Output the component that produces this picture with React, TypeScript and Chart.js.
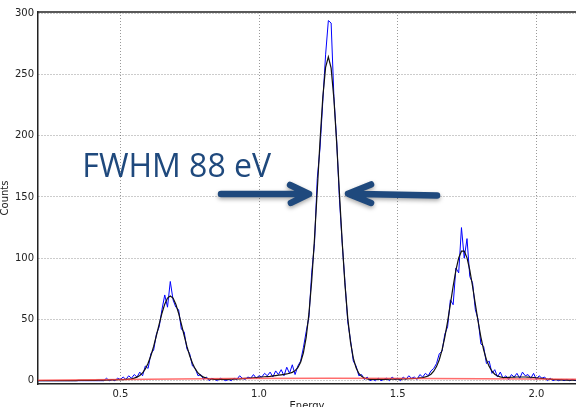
import { useEffect, useRef } from 'react';
import { Chart, registerables } from 'chart.js';

Chart.register(...registerables);

// Channel energies (keV)
const energy = [
  0.20, 0.21, 0.22, 0.23, 0.24, 0.25, 0.26, 0.27, 0.28, 0.29,
  0.30, 0.31, 0.32, 0.33, 0.34, 0.35, 0.36, 0.37, 0.38, 0.39,
  0.40, 0.41, 0.42, 0.43, 0.44, 0.45, 0.46, 0.47, 0.48, 0.49,
  0.50, 0.51, 0.52, 0.53, 0.54, 0.55, 0.56, 0.57, 0.58, 0.59,
  0.60, 0.61, 0.62, 0.63, 0.64, 0.65, 0.66, 0.67, 0.68, 0.69,
  0.70, 0.71, 0.72, 0.73, 0.74, 0.75, 0.76, 0.77, 0.78, 0.79,
  0.80, 0.81, 0.82, 0.83, 0.84, 0.85, 0.86, 0.87, 0.88, 0.89,
  0.90, 0.91, 0.92, 0.93, 0.94, 0.95, 0.96, 0.97, 0.98, 0.99,
  1.00, 1.01, 1.02, 1.03, 1.04, 1.05, 1.06, 1.07, 1.08, 1.09,
  1.10, 1.11, 1.12, 1.13, 1.14, 1.15, 1.16, 1.17, 1.18, 1.19,
  1.20, 1.21, 1.22, 1.23, 1.24, 1.25, 1.26, 1.27, 1.28, 1.29,
  1.30, 1.31, 1.32, 1.33, 1.34, 1.35, 1.36, 1.37, 1.38, 1.39,
  1.40, 1.41, 1.42, 1.43, 1.44, 1.45, 1.46, 1.47, 1.48, 1.49,
  1.50, 1.51, 1.52, 1.53, 1.54, 1.55, 1.56, 1.57, 1.58, 1.59,
  1.60, 1.61, 1.62, 1.63, 1.64, 1.65, 1.66, 1.67, 1.68, 1.69,
  1.70, 1.71, 1.72, 1.73, 1.74, 1.75, 1.76, 1.77, 1.78, 1.79,
  1.80, 1.81, 1.82, 1.83, 1.84, 1.85, 1.86, 1.87, 1.88, 1.89,
  1.90, 1.91, 1.92, 1.93, 1.94, 1.95, 1.96, 1.97, 1.98, 1.99,
  2.00, 2.01, 2.02, 2.03, 2.04, 2.05, 2.06, 2.07, 2.08, 2.09,
  2.10, 2.11, 2.12, 2.13, 2.14, 2.15,
];

// Measured spectrum (blue)
const measuredCounts = [
  0, 0, 0, 0, 0, 0, 0, 0, 0, 0,
  0, 0, 0, 0, 0, 0, 0, 0, 0, 0,
  0, 0, 0, 0, 0, 2, 0, 1, 0, 2,
  1, 3, 1, 4, 2, 5, 3, 7, 4, 12,
  10, 22, 25, 38, 44, 58, 70, 60, 81, 66,
  60, 58, 42, 40, 26, 22, 12, 10, 4, 5,
  1, 3, 0, 2, 1, 0, 2, 1, 0, 1,
  0, 2, 1, 4, 2, 1, 3, 2, 5, 2,
  4, 3, 6, 4, 7, 3, 8, 5, 9, 4,
  11, 6, 13, 5, 12, 16, 27, 40, 52, 88,
  112, 165, 190, 228, 266, 294, 292, 232, 196, 148,
  112, 80, 48, 33, 16, 12, 4, 5, 1, 3,
  0, 1, 0, 2, 0, 1, 2, 0, 3, 1,
  2, 0, 3, 1, 4, 2, 3, 1, 5, 3,
  6, 4, 8, 10, 14, 22, 24, 38, 44, 66,
  62, 92, 88, 125, 100, 116, 85, 80, 58, 50,
  30, 28, 14, 16, 6, 9, 3, 7, 2, 4,
  1, 5, 3, 6, 2, 7, 4, 5, 2, 6,
  1, 4, 2, 3, 0, 2, 0, 1, 0, 1,
  0, 1, 0, 1, 0, 1,
];

// Fitted model (black)
const fitCounts = [
  0, 0, 0, 0, 0, 0, 0, 0, 0, 0,
  0.1, 0.1, 0.1, 0.1, 0.1, 0.2, 0.2, 0.2, 0.2, 0.3,
  0.3, 0.3, 0.4, 0.4, 0.5, 0.5, 0.6, 0.6, 0.7, 0.8,
  0.8, 0.9, 1.1, 1.3, 1.5, 2.1, 2.9, 4.2, 6.3, 9.6,
  14.2, 20.4, 28.0, 36.9, 46.2, 55.1, 62.5, 67.5, 69.2, 67.5,
  62.5, 55.1, 46.2, 36.9, 28.0, 20.4, 14.2, 9.6, 6.3, 4.2,
  2.9, 2.1, 1.5, 1.3, 1.1, 1.0, 1.0, 1.0, 1.0, 1.1,
  1.2, 1.3, 1.4, 1.5, 1.7, 1.9, 2.0, 2.2, 2.4, 2.6,
  2.8, 3.0, 3.2, 3.4, 3.6, 3.9, 4.2, 4.5, 4.8, 5.1,
  5.5, 6.1, 6.8, 8.2, 10.6, 15.1, 22.8, 35.4, 54.7, 81.6,
  115.9, 155.5, 195.9, 231.4, 255.8, 264.3, 255.2, 230.2, 194.1, 153.1,
  113.0, 78.2, 50.9, 31.3, 18.4, 10.5, 5.9, 3.5, 2.1, 1.5,
  1.1, 1.0, 1.0, 1.0, 1.1, 1.1, 1.1, 1.2, 1.2, 1.2,
  1.3, 1.3, 1.4, 1.5, 1.6, 1.7, 1.8, 2.0, 2.3, 2.5,
  3.1, 3.8, 5.3, 7.7, 11.5, 17.1, 25.1, 35.6, 48.3, 62.5,
  77.1, 90.2, 100.3, 105.7, 105.7, 100.3, 90.2, 77.1, 62.5, 48.3,
  35.6, 25.1, 17.1, 11.5, 7.7, 5.3, 3.8, 3.1, 2.6, 2.6,
  2.7, 2.8, 2.9, 3.0, 3.0, 3.0, 3.0, 2.9, 2.8, 2.6,
  2.4, 2.1, 1.9, 1.6, 1.4, 1.2, 1.0, 0.9, 0.8, 0.7,
  0.6, 0.5, 0.5, 0.4, 0.4, 0.3,
];

// Background (red)
const bgEnergy = [0.20, 0.50, 0.90, 1.25, 1.60, 2.00, 2.15];
const bgCounts = [0.4, 1.0, 1.7, 2.0, 1.7, 1.3, 1.1];

const xTicks = [0.5, 1.0, 1.5, 2.0];
const yTicks = [0, 50, 100, 150, 200, 250, 300];
const xLabel = 'Energy';
const yLabel = 'Counts';
const noteText = 'FWHM 88 eV';
const notePos = [0.363, 166.5];
const leftArrow = { tail: [0.863, 152.4], tip: [1.18, 152.4], wingA: [1.112, 159.8], wingB: [1.115, 145.1] };
const rightArrow = { tail: [1.642, 151.2], tip: [1.321, 152.7], wingA: [1.404, 160.2], wingB: [1.404, 145.1] };

export default function App() {
  const ref = useRef<HTMLCanvasElement>(null);

  useEffect(() => {
    document.body.style.margin = '0';
    const canvas = ref.current!;
    let alive = true;

    const overlay = {
      id: 'overlay',
      afterDraw(chart: any) {
        const { ctx, chartArea: a, scales } = chart;
        const xs = scales.x;
        const ys = scales.y;
        const px = (v: number) => xs.getPixelForValue(v);
        const py = (v: number) => ys.getPixelForValue(v);
        ctx.save();
        // top spine
        ctx.strokeStyle = '#222';
        ctx.lineWidth = 1.5;
        ctx.beginPath();
        ctx.moveTo(a.left, a.top);
        ctx.lineTo(a.right, a.top);
        ctx.stroke();
        // axis titles
        ctx.fillStyle = '#222';
        ctx.font = '10px "DejaVu Sans"';
        ctx.textAlign = 'center';
        ctx.textBaseline = 'top';
        ctx.fillText(xLabel, (a.left + a.right) / 2, 401);
        ctx.save();
        ctx.translate(8, (a.top + a.bottom) / 2);
        ctx.rotate(-Math.PI / 2);
        ctx.textBaseline = 'alphabetic';
        ctx.fillText(yLabel, 0, 0);
        ctx.restore();
        // annotation text
        ctx.fillStyle = '#1F497D';
        ctx.font = '32px "Open Sans"';
        ctx.textAlign = 'left';
        ctx.textBaseline = 'alphabetic';
        ctx.fillText(noteText, px(notePos[0]), py(notePos[1]));
        // arrows
        ctx.strokeStyle = '#1F497D';
        ctx.lineWidth = 6.5;
        ctx.lineCap = 'round';
        ctx.lineJoin = 'round';
        ctx.shadowColor = 'rgba(0,0,0,0.35)';
        ctx.shadowBlur = 4;
        ctx.shadowOffsetY = 2;
        for (const ar of [leftArrow, rightArrow]) {
          ctx.beginPath();
          ctx.moveTo(px(ar.tail[0]), py(ar.tail[1]));
          ctx.lineTo(px(ar.tip[0]), py(ar.tip[1]));
          ctx.moveTo(px(ar.wingA[0]), py(ar.wingA[1]));
          ctx.lineTo(px(ar.tip[0]), py(ar.tip[1]));
          ctx.lineTo(px(ar.wingB[0]), py(ar.wingB[1]));
          ctx.stroke();
        }
        ctx.restore();
      },
    };

    const tickFont = { family: 'DejaVu Sans', size: 10 };

    const chart = new Chart(canvas, {
      type: 'line',
      data: {
        datasets: [
          {
            label: 'background',
            data: bgEnergy.map((x, i) => ({ x, y: bgCounts[i] })),
            borderColor: 'rgba(255,60,60,0.75)',
            borderWidth: 1.5,
            pointRadius: 0,
            tension: 0,
          },
          {
            label: 'fit',
            data: energy.map((x, i) => ({ x, y: fitCounts[i] })),
            borderColor: '#111',
            borderWidth: 1.2,
            pointRadius: 0,
            tension: 0,
          },
          {
            label: 'data',
            data: energy.map((x, i) => ({ x, y: measuredCounts[i] })),
            borderColor: '#0000ff',
            borderWidth: 1,
            pointRadius: 0,
            tension: 0,
          },
        ],
      },
      options: {
        responsive: false,
        animation: false,
        layout: { padding: { top: 12, right: 0, left: 0, bottom: 0 } },
        plugins: { legend: { display: false }, tooltip: { enabled: false } },
        scales: {
          x: {
            type: 'linear',
            min: 0.203,
            max: 2.143,
            afterBuildTicks: (s: any) => { s.ticks = xTicks.map((v) => ({ value: v })); },
            afterFit: (s: any) => { s.height = 23; },
            ticks: {
              callback: (v: any) => Number(v).toFixed(1),
              font: tickFont,
              color: '#222',
              padding: 4,
              maxRotation: 0,
              autoSkip: false,
            },
            grid: { color: 'rgba(0,0,0,0.4)', lineWidth: 1, drawTicks: false },
            border: { display: true, color: '#222', width: 1.5, dash: [1, 2] },
          },
          y: {
            type: 'linear',
            min: -2.7,
            max: 301,
            afterBuildTicks: (s: any) => { s.ticks = yTicks.map((v) => ({ value: v })); },
            afterFit: (s: any) => { s.width = 38; },
            ticks: {
              callback: (v: any) => String(v),
              font: tickFont,
              color: '#222',
              padding: 4,
              autoSkip: false,
            },
            grid: { color: 'rgba(0,0,0,0.4)', lineWidth: 1, drawTicks: false },
            border: { display: true, color: '#222', width: 1.5, dash: [1, 2] },
          },
        },
      },
      plugins: [overlay],
    } as any);

    document.fonts.load('32px "Open Sans"').then(() => { if (alive) chart.draw(); });

    return () => {
      alive = false;
      chart.destroy();
    };
  }, []);

  return (
    <div style={{ width: 576, height: 407 }}>
      <canvas ref={ref} width={576} height={407} />
    </div>
  );
}
